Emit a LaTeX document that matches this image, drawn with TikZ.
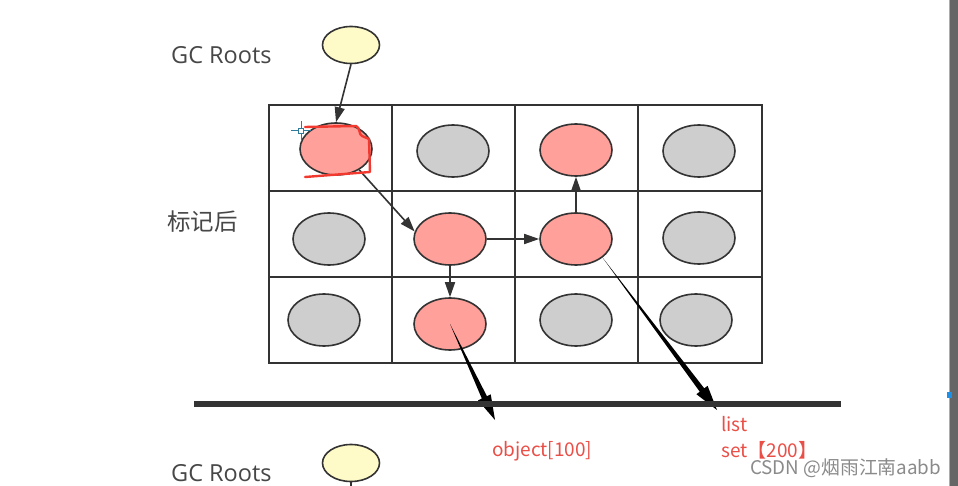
\documentclass[tikz,border=0pt]{standalone}
\usepackage{fontspec}
\setmainfont{Noto Sans CJK SC}
\newfontfamily\latinsans{Open Sans}
\usetikzlibrary{arrows.meta,calc,shapes.geometric}
\definecolor{redfill}{HTML}{FFA09A}
\definecolor{grayfill}{HTML}{CECECE}
\definecolor{yellowfill}{HTML}{FFFBC8}
\definecolor{lineg}{HTML}{333333}
\definecolor{labelred}{HTML}{EA4F47}
\definecolor{markred}{HTML}{F2392F}
\definecolor{wmgray}{HTML}{8A8A8A}
\definecolor{cursorc}{HTML}{2F7C9A}
\definecolor{edgegray}{HTML}{666666}
\definecolor{edgecyan}{HTML}{5CC8EC}
\definecolor{handleblue}{HTML}{1E90E8}
\begin{document}
\begin{tikzpicture}[x=1pt,y=-1pt,
  obj/.style={ellipse, draw=lineg, line width=1.6pt, minimum width=72pt, minimum height=52pt, inner sep=0pt},
  live/.style={obj, fill=redfill},
  dead/.style={obj, fill=grayfill},
  root/.style={ellipse, draw=lineg, line width=1.6pt, fill=yellowfill, minimum width=57pt, minimum height=37pt, inner sep=0pt},
  gridline/.style={draw=lineg, line width=2.2pt},
  conn/.style={draw=lineg, line width=1.6pt, -{Triangle[length=15pt,width=10pt]}},
  caption/.style={anchor=west, text=black!72, font=\fontsize{23.5}{28}\selectfont, inner sep=0pt},
  redlabel/.style={anchor=west, text=labelred, font=\fontsize{19}{23}\selectfont, inner sep=0pt},
  wedge/.style={fill=black}
]
\useasboundingbox (0,0) rectangle (958,486);
\fill[white] (0,0) rectangle (958,486);

% grid
\draw[gridline] (269,105) rectangle (762,363);
\draw[gridline] (392,105) -- (392,363) (515,105) -- (515,363) (638,105) -- (638,363);
\draw[gridline] (269,191) -- (762,191) (269,277) -- (762,277);

% objects
\node[live] (r11) at (336,149) {};
\node[dead] (r12) at (453,151) {};
\node[live] (r13) at (576,150) {};
\node[dead] (r14) at (699,151) {};
\node[dead] (r21) at (329,239) {};
\node[live] (r22) at (450,239) {};
\node[live] (r23) at (576,239) {};
\node[dead] (r24) at (699,238) {};
\node[dead] (r31) at (324,320) {};
\node[live] (r32) at (450,324) {};
\node[dead] (r33) at (576,320) {};
\node[dead] (r34) at (696,320) {};

% roots
\node[root] (root1) at (351,45) {};
\node[root] (root2) at (351,463) {};
\coordinate (rootstub) at (351,486);

% texts
\node[caption, font=\latinsans\fontsize{23.5}{28}\selectfont] (t1) at (171,55) {GC Roots};
\node[caption] (t2) at (167,222) {标记后};
\node[caption, font=\latinsans\fontsize{23.5}{28}\selectfont] (t3) at (171,473) {GC Roots};
\node[redlabel] (l1) at (492,451) {object[100]};
\node[redlabel] (l2) at (721,424) {list};
\node[redlabel] (l3) at (721,450) {set【200】};
\node[anchor=west, text=wmgray, font=\fontsize{18.8}{22}\selectfont, inner sep=0pt] (wm) at (750,468) {CSDN @烟雨江南aabb};

% connectors
\draw[conn] (root1.south) -- (r11.north);
\draw[conn] (r11.-42) -- (r22.168);
\draw[conn] (r22.east) -- (r23.west);
\draw[conn] (r22.south) -- (r32.north);
\draw[conn] (r23.north) -- (r13.south);
\draw[draw=lineg, line width=1.6pt] (root2.south) -- (rootstub);

% hand-drawn mark
\draw[markred, line width=2.4pt, line cap=round, line join=round]
  (305,127) -- (356,126) .. controls (360,127) and (359,135) .. (362,136)
  -- (369,139) -- (370,172) -- (305,177);

% cursor
\draw[cursorc, line width=1pt] (291,131) -- (311,131) (301,121) -- (301,141);
\draw[cursorc, line width=1pt, fill=white] (298.5,128.5) rectangle (303.5,133.5);

% thick wedge arrows
\coordinate (s1) at (r32.center);
\coordinate (e1) at (495,420);
\coordinate (b1) at ($(e1)!25pt!(s1)$);
\fill[wedge] (s1) -- ($(b1)!2.8pt!90:(s1)$) -- ($(b1)!7pt!90:(s1)$) -- (e1) -- ($(b1)!7pt!-90:(s1)$) -- ($(b1)!2.8pt!-90:(s1)$) -- cycle;

\coordinate (s2) at (r23.-35);
\coordinate (e2) at (717,410);
\coordinate (b2) at ($(e2)!25pt!(s2)$);
\fill[wedge] (s2) -- ($(b2)!2.8pt!90:(s2)$) -- ($(b2)!7pt!90:(s2)$) -- (e2) -- ($(b2)!7pt!-90:(s2)$) -- ($(b2)!2.8pt!-90:(s2)$) -- cycle;

% floor bar
\draw[lineg, line width=6pt] (194,404) -- (841,404);

% right edge
\fill[edgegray] (950,0) rectangle (958,486);
\draw[edgecyan, line width=1pt] (949.5,0) -- (949.5,486);
\fill[handleblue] (947,392) rectangle (952,398);
\end{tikzpicture}
\end{document}
